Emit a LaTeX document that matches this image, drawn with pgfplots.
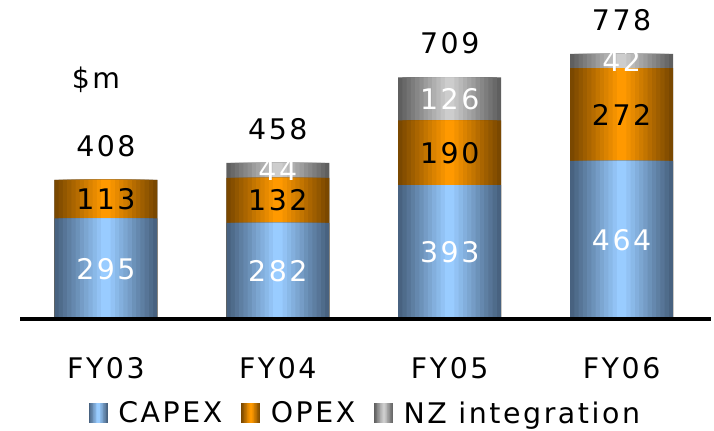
\documentclass[border=0pt]{standalone}
\usepackage{pgfplots}
\usepackage{pgfplotstable}
\pgfplotsset{compat=1.18}
\usepackage{fontspec}
\setmainfont{DejaVu Sans}[LetterSpace=9]

\definecolor{capexL}{RGB}{72,98,128}
\definecolor{capexM}{RGB}{153,204,255}
\definecolor{opexL}{RGB}{122,72,0}
\definecolor{opexM}{RGB}{255,153,0}
\definecolor{nzL}{RGB}{95,95,95}
\definecolor{nzM}{RGB}{205,205,205}

% steps of the edge-to-centre shading of the bars
\foreach \k in {0,...,11}{%
  \pgfmathtruncatemacro\p{round(\k*100/11)}%
  \xglobal\colorlet{capex\k}{capexM!\p!capexL}%
  \xglobal\colorlet{opex\k}{opexM!\p!opexL}%
  \xglobal\colorlet{nz\k}{nzM!\p!nzL}%
}

\newcommand{\lbl}{\fontsize{28.5}{34}\selectfont}
% legend swatch, same stepped shading as the bars
\newcommand{\swatch}[1]{%
  \foreach \k in {0,...,11}{%
    \fill[#1\k] ({9bp-9bp*(12-\k)/12},-9.5bp) rectangle ({9bp+9bp*(12-\k)/12},9.5bp);}}

% spend by year, $m
\pgfplotstableread{
x capex opex nz
0 295 113 0
1 282 132 44
2 393 190 126
3 464 272 42
}\spend

\begin{document}
\begin{tikzpicture}
\useasboundingbox (-20bp,-112bp) rectangle (694bp,319bp);
\begin{axis}[
  at={(0,0)}, anchor=south west,
  scale only axis,
  width=691bp, height=319bp,
  xmin=-0.5, xmax=3.52,
  ymin=0, ymax=936,
  hide y axis,
  axis x line*=bottom,
  x axis line style={-, line width=3.5bp, black},
  axis on top=true,
  xtick={0,1,2,3},
  xticklabels={FY03,FY04,FY05,FY06},
  xtick style={draw=none},
  xticklabel style={font=\lbl, anchor=base, yshift=-59bp},
  clip=false,
  legend columns=-1,
  legend style={draw=none, fill=none, font=\lbl,
    at={(axis description cs:0.5,-0.295)}, anchor=center,
    /tikz/every odd column/.append style={column sep=9bp},
    /tikz/every even column/.append style={column sep=17bp}},
]

% painted back to front: total, CAPEX+OPEX, CAPEX
\pgfplotsinvokeforeach{0,...,11}{
  \addplot[forget plot, ybar, bar shift=0pt, draw=none, fill=nz#1,
    bar width={103bp-8.5bp*#1}]
    table[x=x, y expr=\thisrow{capex}+\thisrow{opex}+\thisrow{nz}] {\spend};
}
\pgfplotsinvokeforeach{0,...,11}{
  \addplot[forget plot, ybar, bar shift=0pt, draw=none, fill=opex#1,
    bar width={103bp-8.5bp*#1}]
    table[x=x, y expr=\thisrow{capex}+\thisrow{opex}] {\spend};
}
\pgfplotsinvokeforeach{0,...,11}{
  \addplot[forget plot, ybar, bar shift=0pt, draw=none, fill=capex#1,
    bar width={103bp-8.5bp*#1}]
    table[x=x, y=capex] {\spend};
}

\addlegendimage{legend image code/.code={\swatch{capex}}}
\addlegendentry{CAPEX}
\addlegendimage{legend image code/.code={\swatch{opex}}}
\addlegendentry{OPEX}
\addlegendimage{legend image code/.code={\swatch{nz}}}
\addlegendentry{NZ integration}

% segment labels
\node[font=\lbl, white] at (axis cs:0,147.5) {295};
\node[font=\lbl, white] at (axis cs:1,141) {282};
\node[font=\lbl, white] at (axis cs:2,196.5) {393};
\node[font=\lbl, white] at (axis cs:3,232) {464};
\node[font=\lbl, black] at (axis cs:0,351.5) {113};
\node[font=\lbl, black] at (axis cs:1,348) {132};
\node[font=\lbl, black] at (axis cs:2,488) {190};
\node[font=\lbl, black] at (axis cs:3,600) {272};
\node[font=\lbl, white] at (axis cs:1,436) {44};
\node[font=\lbl, white] at (axis cs:2,646) {126};
\node[font=\lbl, white] at (axis cs:3,757) {42};

% totals
\node[font=\lbl] at (axis cs:0,508) {408};
\node[font=\lbl] at (axis cs:1,558) {458};
\node[font=\lbl] at (axis cs:2,809) {709};
\node[font=\lbl] at (axis cs:3,878) {778};

\node[font=\lbl, anchor=west, inner sep=0pt] at (axis cs:-0.2,701) {\$m};
\end{axis}
\end{tikzpicture}
\end{document}
